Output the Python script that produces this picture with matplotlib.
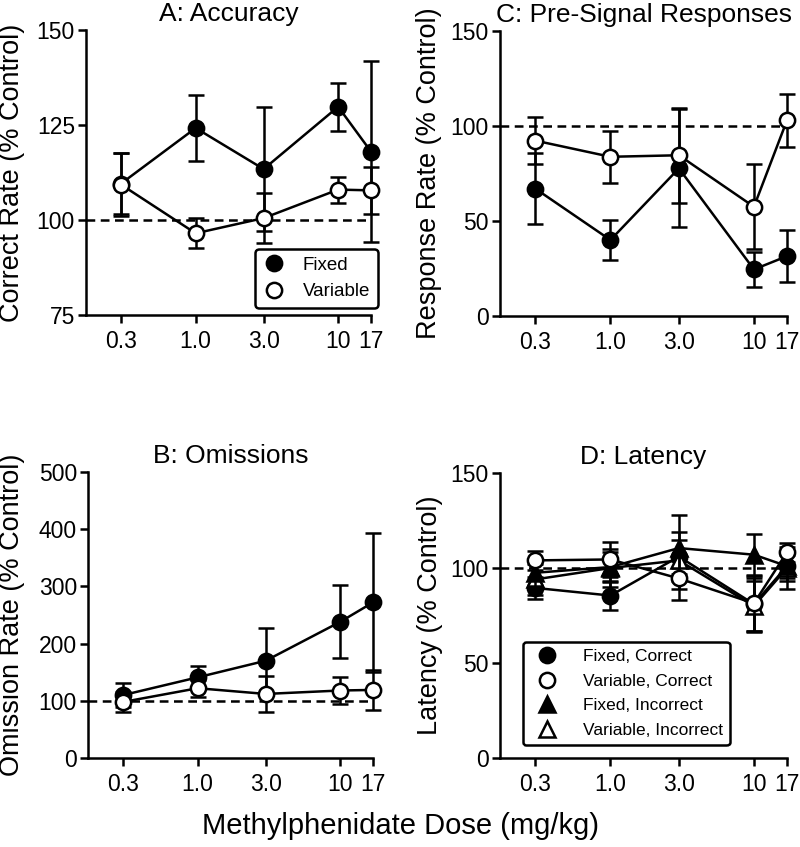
import matplotlib
matplotlib.use("Agg")
import matplotlib.pyplot as plt
from matplotlib.lines import Line2D

plt.rcParams['font.family'] = ['Liberation Sans', 'DejaVu Sans']

doses = [0.3, 1.0, 3.0, 10, 17]
dose_labels = ["0.3", "1.0", "3.0", "10", "17"]

# Panel A: Accuracy
acc_fixed = [109.6, 124.2, 113.4, 129.8, 118.0]
acc_fixed_err = [8.0, 8.8, 16.3, 6.3, 23.8]
acc_var = [109.3, 96.5, 100.5, 108.0, 107.8]
acc_var_err = [8.2, 4.0, 6.5, 3.4, 6.1]

# Panel B: Omissions
om_fixed = [110, 141, 170, 238, 272]
om_fixed_err = [21, 20, 57, 64, 122]
om_var = [98, 122, 112, 118, 119]
om_var_err = [17, 15, 32, 23, 35]

# Panel C: Pre-signal responses
ps_fixed = [67.0, 40.0, 77.7, 24.5, 31.5]
ps_fixed_err = [18.7, 10.5, 31.0, 9.0, 13.5]
ps_var = [92.3, 83.8, 84.6, 57.5, 103.0]
ps_var_err = [12.2, 13.8, 25.0, 22.5, 14.0]

# Panel D: Latency
lat_fc = [89.5, 85.5, 106.0, 81.0, 101.0]
lat_fc_err = [6, 7.5, 9, 14, 6]
lat_vc = [104.0, 104.5, 94.5, 81.4, 108.3]
lat_vc_err = [5, 9, 11.5, 15, 5]
lat_fi = [97.5, 100.5, 110.5, 107.0, 101.0]
lat_fi_err = [7, 8, 17.5, 11, 8]
lat_vi = [94.0, 100.0, 104.0, 80.0, 100.0]
lat_vi_err = [8, 10, 15, 13, 11]

W, H = 800, 847
fig = plt.figure(figsize=(W / 100, H / 100), dpi=100)


def make_ax(l, r, t, b):
    return fig.add_axes([l / W, 1 - b / H, (r - l) / W, (b - t) / H])


LW = 1.8
MS = 11
MEW = 1.8


def style(ax, ylim, yticks, title, ylabel, ylab_x):
    ax.set_xscale('log')
    ax.set_xlim(0.17, 17)
    ax.set_xticks(doses)
    ax.set_xticklabels(dose_labels)
    ax.minorticks_off()
    ax.set_ylim(*ylim)
    ax.set_yticks(yticks)
    ax.set_yticklabels([str(v) for v in yticks])
    for s in ['top', 'right']:
        ax.spines[s].set_visible(False)
    for s in ['left', 'bottom']:
        ax.spines[s].set_linewidth(LW)
    ax.tick_params(axis='both', which='major', width=LW, length=6,
                   labelsize=16.5, direction='out')
    ax.tick_params(axis='y', pad=2)
    ax.tick_params(axis='x', pad=5)
    ax.set_title(title, fontsize=19, pad=6.5)
    ax.set_ylabel(ylabel, fontsize=19.5)
    ax.yaxis.set_label_coords(ylab_x, 0.5)
    ax.axhline(100, color='black', lw=LW, ls=(0, (3.5, 2.2)), zorder=1)
    ax.patch.set_alpha(0)


def series(ax, y, err, marker, fill, z):
    eb = ax.errorbar(doses, y, yerr=err, fmt='none', ecolor='black', elinewidth=LW,
                     capsize=6, capthick=LW, zorder=z)
    for art in eb.get_children():
        art.set_clip_on(False)
    ax.plot(doses, y, color='black', lw=LW, marker=marker, ms=MS,
            mfc=fill, mec='black', mew=MEW, zorder=z + 0.5, clip_on=False)


# A
axA = make_ax(86, 371, 30, 315)
style(axA, (75, 150), [75, 100, 125, 150], "A: Accuracy", "Correct Rate (% Control)", -0.214)
series(axA, acc_fixed, acc_fixed_err, 'o', 'black', 2)
series(axA, acc_var, acc_var_err, 'o', 'white', 4)
hA = [Line2D([], [], ls='none', marker='o', ms=MS, mfc='black', mec='black', mew=MEW),
      Line2D([], [], ls='none', marker='o', ms=MS, mfc='white', mec='black', mew=MEW)]
legA = axA.legend(hA, ["Fixed", "Variable"], loc='upper left',
                  bbox_to_anchor=((255 - 86) / 285, (315 - 249) / 285),
                  fontsize=13.5, frameon=True, fancybox=True, edgecolor='black',
                  framealpha=1, handletextpad=0.95, borderpad=0.4, labelspacing=0.5,
                  handlelength=1.2, borderaxespad=0)
legA.get_frame().set_linewidth(LW)
legA.set_zorder(10)

# C
axC = make_ax(500, 787, 31, 316)
style(axC, (0, 150), [0, 50, 100, 150], "C: Pre-Signal Responses", "Response Rate (% Control)", -0.202)
series(axC, ps_fixed, ps_fixed_err, 'o', 'black', 2)
series(axC, ps_var, ps_var_err, 'o', 'white', 4)

# B
axB = make_ax(88, 373, 472, 758)
style(axB, (0, 500), [0, 100, 200, 300, 400, 500], "B: Omissions", "Omission Rate (% Control)", -0.221)
series(axB, om_fixed, om_fixed_err, 'o', 'black', 2)
series(axB, om_var, om_var_err, 'o', 'white', 4)

# D
axD = make_ax(500, 787, 473, 758)
style(axD, (0, 150), [0, 50, 100, 150], "D: Latency", "Latency (% Control)", -0.199)
series(axD, lat_fc, lat_fc_err, 'o', 'black', 2)
series(axD, lat_vi, lat_vi_err, '^', 'white', 4)
series(axD, lat_fi, lat_fi_err, '^', 'black', 6)
series(axD, lat_vc, lat_vc_err, 'o', 'white', 8)
hD = [Line2D([], [], ls='none', marker='o', ms=MS, mfc='black', mec='black', mew=MEW),
      Line2D([], [], ls='none', marker='o', ms=MS, mfc='white', mec='black', mew=MEW),
      Line2D([], [], ls='none', marker='^', ms=MS, mfc='black', mec='black', mew=MEW),
      Line2D([], [], ls='none', marker='^', ms=MS, mfc='white', mec='black', mew=MEW)]
legD = axD.legend(hD, ["Fixed, Correct", "Variable, Correct", "Fixed, Incorrect", "Variable, Incorrect"],
                  loc='upper left',
                  bbox_to_anchor=((523 - 500) / 287, (758 - 642) / 285),
                  fontsize=12.5, frameon=True, fancybox=True, edgecolor='black',
                  framealpha=1, handletextpad=1.05, borderpad=0.4, labelspacing=0.55,
                  handlelength=2.0, borderaxespad=0)
legD.get_frame().set_linewidth(LW)
legD.set_zorder(10)

fig.text(400 / W, 1 - 826 / H, "Methylphenidate Dose (mg/kg)", fontsize=21,
         ha='center', va='center')

fig.savefig("out.png", dpi=100)
